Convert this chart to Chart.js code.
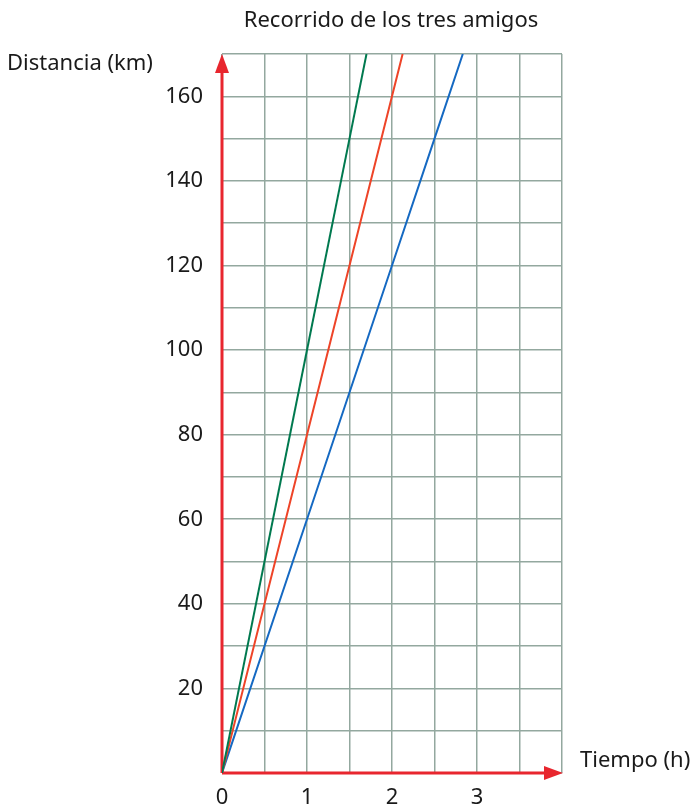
<!doctype html>
<html lang="es">
<head>
<meta charset="utf-8">
<title>Recorrido de los tres amigos</title>
<script src="https://cdn.jsdelivr.net/npm/chart.js@4.4.1/dist/chart.umd.min.js"></script>
<style>
  html, body { margin: 0; padding: 0; background: #fff; }
  #wrap { width: 694px; height: 808px; }
</style>
</head>
<body>
<div id="wrap"><canvas id="recorrido" width="694" height="808"></canvas></div>
<script>
// datos (tiempo en h, distancia en km)
var greenTimes = [0, 1, 1.5, 1.7];
var greenDist  = [0, 100, 150, 170];
var redTimes   = [0, 1, 1.5, 2, 2.125];
var redDist    = [0, 80, 120, 160, 170];
var blueTimes  = [0, 1, 2, 2.5, 2.833];
var blueDist   = [0, 60, 120, 150, 170];

var xTickLabels = [0, 1, 2, 3];
var yTickLabels = [20, 40, 60, 80, 100, 120, 140, 160];

var FONT = '"Noto Sans", sans-serif';
var AXIS_RED = '#e8262e';
var GRID = '#93a89f';

function toPoints(xs, ys) {
  return xs.map(function (x, i) { return { x: x, y: ys[i] }; });
}

// ejes rojos con flechas y textos
var decorations = {
  id: 'decorations',
  beforeDatasetsDraw: function (chart) {
    var ctx = chart.ctx, a = chart.chartArea;
    var x0 = chart.scales.x.getPixelForValue(0);
    var y0 = chart.scales.y.getPixelForValue(0);
    ctx.save();
    ctx.strokeStyle = AXIS_RED;
    ctx.fillStyle = AXIS_RED;
    ctx.lineWidth = 3;
    ctx.beginPath();
    ctx.moveTo(x0, y0);
    ctx.lineTo(x0, a.top + 12);
    ctx.moveTo(x0, y0);
    ctx.lineTo(a.right - 12, y0);
    ctx.stroke();
    // flecha vertical
    ctx.beginPath();
    ctx.moveTo(x0, a.top);
    ctx.lineTo(x0 - 7, a.top + 19);
    ctx.lineTo(x0 + 7, a.top + 19);
    ctx.closePath();
    ctx.fill();
    // flecha horizontal
    ctx.beginPath();
    ctx.moveTo(a.right + 1, y0);
    ctx.lineTo(a.right - 18, y0 - 7);
    ctx.lineTo(a.right - 18, y0 + 7);
    ctx.closePath();
    ctx.fill();
    ctx.restore();
  },
  afterDraw: function (chart) {
    var ctx = chart.ctx;
    ctx.save();
    ctx.fillStyle = '#1a1a1a';
    ctx.font = '22px ' + FONT;
    ctx.textBaseline = 'middle';
    ctx.textAlign = 'center';
    ctx.fillText('Recorrido de los tres amigos', 391, 21);
    ctx.textAlign = 'left';
    ctx.fillText('Distancia (km)', 7, 64);
    ctx.fillText('Tiempo (h)', 580, 761);
    ctx.restore();
  }
};

new Chart(document.getElementById('recorrido').getContext('2d'), {
  type: 'scatter',
  data: {
    datasets: [
      { label: 'Verde', data: toPoints(greenTimes, greenDist), borderColor: '#00794f' },
      { label: 'Rojo',  data: toPoints(redTimes, redDist),     borderColor: '#ee4428' },
      { label: 'Azul',  data: toPoints(blueTimes, blueDist),   borderColor: '#1569c2' }
    ].map(function (d) {
      d.showLine = true;
      d.borderWidth = 2;
      d.pointRadius = 0;
      d.tension = 0;
      return d;
    })
  },
  options: {
    responsive: false,
    animation: false,
    layout: { padding: { left: 0, right: 132, top: 54, bottom: 0 } },
    plugins: { legend: { display: false }, tooltip: { enabled: false }, title: { display: false } },
    scales: {
      x: {
        type: 'linear',
        min: 0, max: 4,
        afterFit: function (s) { s.height = 35; },
        grid: { color: GRID, lineWidth: 1.5, drawTicks: false },
        border: { display: false },
        ticks: {
          stepSize: 0.5,
          padding: 12,
          color: '#1a1a1a',
          font: { family: FONT, size: 22 },
          maxRotation: 0,
          autoSkip: false,
          callback: function (v) { return xTickLabels.indexOf(v) >= 0 ? String(v) : ''; }
        }
      },
      y: {
        type: 'linear',
        min: 0, max: 170,
        afterFit: function (s) { s.width = 222; },
        grid: { color: GRID, lineWidth: 1.5, drawTicks: false },
        border: { display: false },
        ticks: {
          stepSize: 10,
          padding: 19,
          color: '#1a1a1a',
          font: { family: FONT, size: 22 },
          autoSkip: false,
          callback: function (v) { return yTickLabels.indexOf(v) >= 0 ? String(v) : ''; }
        }
      }
    }
  },
  plugins: [decorations]
});
</script>
</body>
</html>
